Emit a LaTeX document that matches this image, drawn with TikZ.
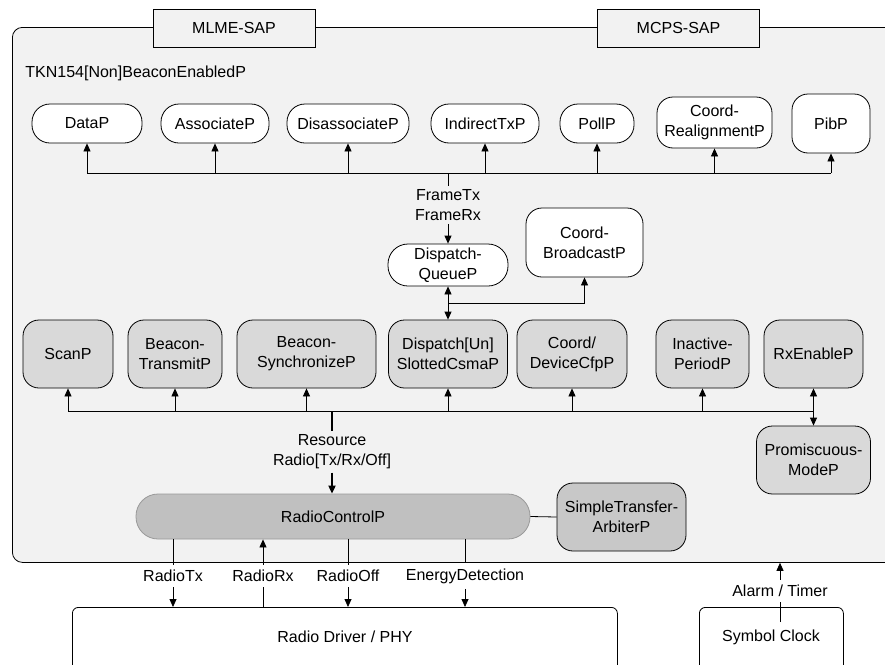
\documentclass[tikz,border=0pt]{standalone}
\usepackage{fontspec}
\setmainfont{Liberation Sans}
\usetikzlibrary{arrows.meta}
\definecolor{bg}{HTML}{F2F2F2}
\definecolor{nodegray}{HTML}{D9D9D9}
\definecolor{rcgray}{HTML}{C0C0C0}
\definecolor{argray}{HTML}{C8C8C8}
\begin{document}
\begin{tikzpicture}[x=1pt,y=-1pt,
  font=\fontsize{16}{20}\selectfont,
  line width=0.8pt,
  >={Triangle[length=8pt,width=7pt]},
  wnode/.style={draw, fill=white, rounded corners=#1, align=center, inner sep=0pt},
  wnode/.default=18pt,
  gnode/.style={draw, fill=nodegray, rounded corners=16pt, align=center, inner sep=0pt, minimum height=68},
  sap/.style={draw, fill=bg, minimum width=162, minimum height=38, inner sep=0pt},
  lbl/.style={align=center, inner sep=3pt},
  blbl/.style={align=center, inner sep=5pt},
  thick line/.style={line width=1.8pt}]
\clip (0,0) rectangle (885,664);
% container
\node[draw, fill=bg, rounded corners=10pt, minimum width=900, minimum height=535, anchor=north west, inner sep=0pt] (cont) at (12,27) {};
\node[sap] (mlme) at (234,28) {MLME-SAP};
\node[sap] (mcps) at (678.5,28) {MCPS-SAP};
\node[anchor=west, inner sep=3pt] (title) at (22,73) {TKN154[Non]BeaconEnabledP};
% top row
\node[wnode, minimum width=110, minimum height=39] (data) at (87,123.5) {DataP};
\node[wnode, minimum width=108, minimum height=39] (assoc) at (215,123.5) {AssociateP};
\node[wnode, minimum width=122, minimum height=39] (disassoc) at (348,123.5) {DisassociateP};
\node[wnode, minimum width=108, minimum height=39] (indirect) at (485,123.5) {IndirectTxP};
\node[wnode, minimum width=74, minimum height=39] (poll) at (597,123.5) {PollP};
\node[wnode=16pt, minimum width=115, minimum height=51] (realign) at (714.5,122.5) {Coord-\\RealignmentP};
\node[wnode=16pt, minimum width=78, minimum height=59] (pib) at (831,123.5) {PibP};
\coordinate (bus1) at (0,173);
\draw (data.south |- bus1) -- (pib.south |- bus1);
\foreach \n in {data,assoc,disassoc,indirect,poll,realign,pib}
  \draw[->] (\n.south |- bus1) -- (\n.south);
% frame labels and dispatch queue
\node[wnode=20pt, minimum width=120, minimum height=42] (dq) at (448,265) {Dispatch-\\QueueP};
\node[wnode=16pt, minimum width=117, minimum height=69] (cb) at (584.5,242.5) {Coord-\\BroadcastP};
\node[lbl] (frm) at (448,205) {FrameTx\\FrameRx};
\draw (frm.north |- bus1) -- (frm.north);
\draw[->] (frm.south) -- (dq.north);
% gray row
\node[gnode, minimum width=90] (scan) at (68,354) {ScanP};
\node[gnode, minimum width=94] (btx) at (175,354) {Beacon-\\TransmitP};
\node[gnode, minimum width=139] (bsync) at (306.5,354) {Beacon-\\SynchronizeP};
\node[gnode, minimum width=119] (dsc) at (448,354) {Dispatch[Un]\\SlottedCsmaP};
\node[gnode, minimum width=110] (cfp) at (572,354) {Coord/\\DeviceCfpP};
\node[gnode, minimum width=93] (iper) at (702.5,354) {Inactive-\\PeriodP};
\node[gnode, minimum width=99] (rxen) at (813.5,354) {RxEnableP};
\node[gnode, minimum width=114] (prom) at (813.5,460) {Promiscuous-\\ModeP};
\draw[<->] (dq.south) -- (dsc.north);
\coordinate (br) at (448,303);
\draw[->] (br) -| (cb.south);
\coordinate (bus2) at (0,411);
\draw (scan.south |- bus2) -- (rxen.south |- bus2);
\foreach \n in {scan,btx,bsync,dsc,cfp,iper}
  \draw[->] (\n.south |- bus2) -- (\n.south);
\draw[<->] (rxen.south) -- (prom.north);
% radio control
\node[draw=gray!80, fill=rcgray, rounded corners=22pt, minimum width=394, minimum height=45, inner sep=0pt] (rc) at (333,516.5) {RadioControlP};
\node[draw, fill=argray, rounded corners=16pt, minimum width=129, minimum height=68, inner sep=0pt, align=center] (arb) at (621.5,517) {SimpleTransfer-\\ArbiterP};
\draw (rc.east) -- (arb.west);
\node[lbl] (res) at (332,452) {Resource\\Radio[Tx/Rx/Off]};
\draw[thick line] (res.north |- bus2) -- (res.north);
\draw[thick line, ->] (res.south) -- (res.south |- rc.north);
% bottom boxes
\node[draw, fill=white, rounded corners=6pt, minimum width=545, minimum height=80, anchor=north west, inner sep=0pt] (phy) at (72,607) {};
\node (phytxt) at (345,637) {Radio Driver / PHY};
\node[draw, fill=white, rounded corners=6pt, minimum width=144, minimum height=80, anchor=north west, inner sep=0pt] (clkbox) at (699,607) {};
\node (clktxt) at (771,637) {Symbol Clock};
% radio interfaces
\node[blbl] (tx) at (173,576) {RadioTx};
\node[blbl] (rx) at (263,576) {RadioRx};
\node[blbl] (off) at (348,576) {RadioOff};
\node[blbl] (ed) at (465,576) {EnergyDetection};
\draw (tx.north |- rc.south) -- (tx.north);
\draw[->] (tx.south) -- (tx.south |- phy.north);
\draw (rx.south |- phy.north) -- (rx.south);
\draw[->] (rx.north) -- (rx.north |- rc.south);
\draw (off.north |- rc.south) -- (off.north);
\draw[->] (off.south) -- (off.south |- phy.north);
\draw (ed.north |- rc.south) -- (ed.north);
\draw[->] (ed.south) -- (ed.south |- phy.north);
% alarm / timer
\coordinate (clk) at (780,622);
\node[blbl] (alarm) at (780,591) {Alarm / Timer};
\draw (clk) -- (alarm.south);
\draw[->] (alarm.north) -- (alarm.north |- cont.south);
\end{tikzpicture}
\end{document}
